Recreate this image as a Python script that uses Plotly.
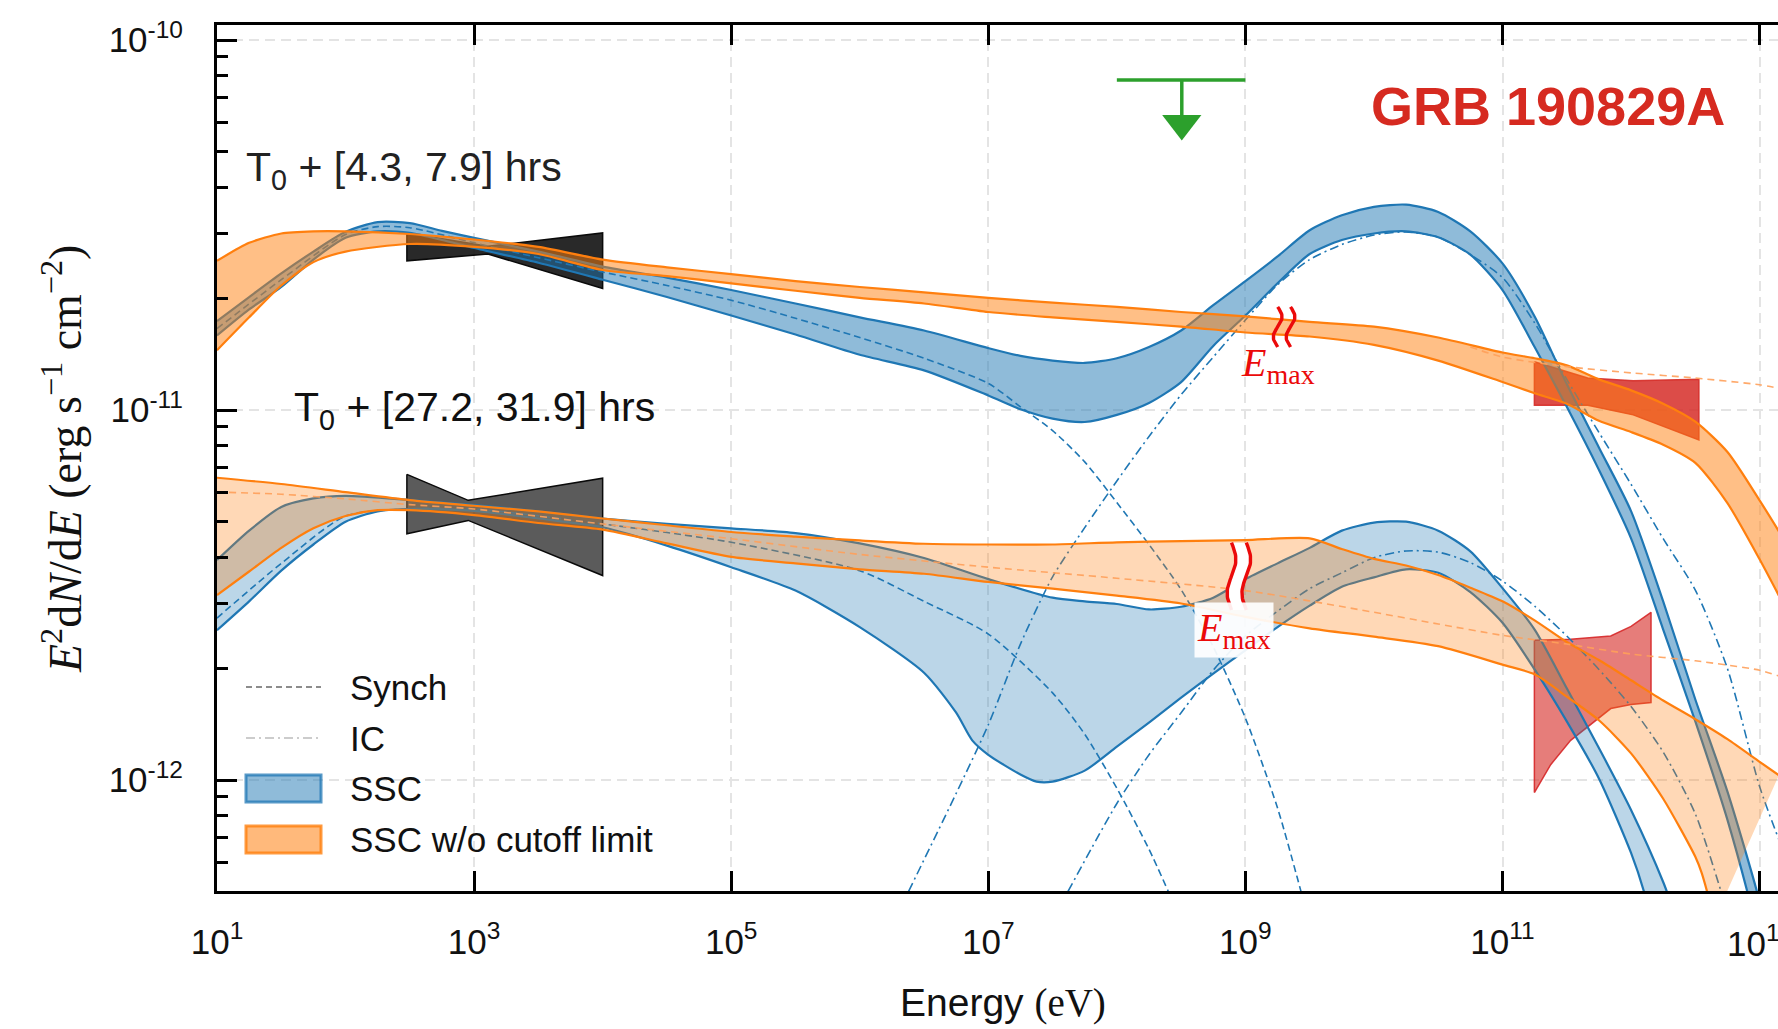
import math
import numpy as np
import plotly.graph_objects as go

# ------------------------------------------------------------------
# DATA  (energies given as log10(E/eV), fluxes in units of 1e-12 erg s^-1 cm^-2)
# ------------------------------------------------------------------
FLUX_UNIT = 1e-12

# ---- Epoch 1 : T0 + [4.3, 7.9] hrs -------------------------------
E1_SSC_LOGE = [1.0, 1.25, 1.5, 1.75, 2.0, 2.25, 2.5, 2.75, 3.0, 3.5, 4.0, 4.5, 5.0, 5.5, 6.0, 6.5,
               7.0, 7.25, 7.5, 7.75, 8.0, 8.25, 8.5, 8.75, 9.0, 9.25, 9.5, 9.75, 10.0, 10.25, 10.5,
               10.75, 11.0, 11.25, 11.5, 11.75, 12.0, 12.25, 12.5, 12.75, 13.0, 13.15]
E1_SSC_UP = [17.4, 20.2, 23.4, 26.8, 30.3, 32.2, 32.0, 30.5, 29.2, 26.8, 24.4, 22.8, 21.1, 19.4, 17.8, 16.4,
             14.7, 14.0, 13.6, 13.4, 13.8, 14.8, 16.4, 19.2, 22.3, 26.0, 30.6, 33.6, 35.4, 35.9, 34.3,
             30.4, 24.9, 17.9, 11.75, 7.92, 5.33, 3.04, 1.65, 0.93, 0.47, 0.28]
E1_SSC_LO = [15.9, 18.7, 21.5, 25.5, 29.2, 30.4, 30.1, 28.8, 27.4, 25.0, 22.5, 20.2, 18.0, 16.0, 14.1, 12.8,
             10.95, 10.05, 9.48, 9.28, 9.70, 10.45, 11.9, 14.9, 18.0, 22.0, 26.4, 28.8, 30.0, 30.4, 29.3,
             26.3, 21.1, 14.8, 10.2, 6.89, 4.50, 2.55, 1.44, 0.78, 0.37, 0.22]

E1_SYN_LOGE = [1.0, 1.5, 2.0, 2.25, 2.5, 3.0, 3.5, 4.0, 4.5, 5.0, 5.5, 6.0, 6.5, 7.0, 7.25, 7.5, 7.75,
               8.0, 8.25, 8.5, 8.75, 9.0, 9.25, 9.4, 9.55]
E1_SYN = [16.6, 22.5, 29.8, 31.3, 31.1, 28.3, 25.8, 23.6, 21.7, 19.8, 17.7, 15.7, 13.8, 11.8, 10.2, 8.80,
          7.24, 5.62, 4.33, 3.27, 2.29, 1.47, 0.84, 0.55, 0.35]

E1_IC_LOGE = [6.38, 6.75, 7.0, 7.25, 7.5, 7.75, 8.0, 8.25, 8.5, 8.75, 9.0, 9.25, 9.5, 9.75, 10.0, 10.25,
              10.5, 10.75, 11.0, 11.25, 11.5, 11.75, 12.0, 12.25, 12.5, 12.75, 13.0, 13.15]
E1_IC = [0.50, 0.92, 1.41, 2.33, 3.54, 4.81, 6.43, 8.48, 11.0, 13.9, 17.5, 21.8, 25.5, 28.0, 29.7, 30.3,
         29.3, 26.3, 22.8, 17.2, 12.1, 8.7, 6.3, 4.49, 3.26, 2.0, 0.96, 0.69]

E1_NOCUT_LOGE = [1.0, 1.25, 1.5, 1.75, 2.0, 2.5, 3.0, 3.5, 4.0, 4.5, 5.0, 5.5, 6.0, 6.5, 7.0, 7.5, 8.0,
                 8.5, 9.0, 9.5, 10.0, 10.5, 11.0, 11.25, 11.5, 11.75, 12.0, 12.25, 12.5, 12.75, 13.0, 13.15]
E1_NOCUT_UP = [25.3, 28.3, 30.0, 30.4, 30.4, 29.9, 28.9, 27.6, 25.5, 24.3, 23.3, 22.3, 21.5, 20.8, 20.1,
               19.5, 19.0, 18.4, 17.9, 17.3, 16.8, 15.7, 14.3, 13.8, 13.2, 12.1, 11.3, 10.4, 9.3, 7.7,
               5.7, 4.7]
E1_NOCUT_LO = [14.5, 17.8, 21.7, 25.1, 26.8, 28.1, 27.6, 26.4, 23.9, 23.0, 22.0, 21.0, 20.1, 19.4, 18.4,
               17.8, 17.3, 16.8, 16.2, 15.8, 15.0, 13.6, 11.9, 11.1, 10.4, 9.35, 8.72, 8.06, 7.2, 5.6,
               3.95, 3.15]
E1_NOCUT_SYN_LOGE = [10.75, 11.0, 11.5, 12.0, 12.5, 13.0, 13.15]
E1_NOCUT_SYN = [14.8, 13.9, 13.1, 12.6, 12.2, 11.7, 11.45]

# ---- Epoch 2 : T0 + [27.2, 31.9] hrs -----------------------------
E2_SSC_UP_LOGE = [1.0, 1.25, 1.5, 1.75, 2.0, 2.5, 3.0, 3.5, 4.0, 4.5, 5.0, 5.5, 6.0, 6.5, 7.0, 7.5, 7.75,
                  8.0, 8.25, 8.5, 8.75, 9.0, 9.25, 9.5, 9.75, 10.0, 10.25, 10.5, 10.75, 11.0, 11.25, 11.5,
                  11.75, 12.0, 12.25, 12.4]
E2_SSC_UP = [3.93, 4.72, 5.47, 5.77, 5.86, 5.71, 5.53, 5.32, 5.09, 4.92, 4.79, 4.65, 4.36, 3.98, 3.49, 3.11,
             3.04, 2.99, 2.89, 2.94, 3.11, 3.49, 3.85, 4.24, 4.72, 4.96, 4.99, 4.72, 4.15, 3.30, 2.55, 1.77,
             1.22, 0.83, 0.53, 0.38]
E2_SSC_LO_LOGE = [1.0, 1.25, 1.5, 1.75, 2.0, 2.25, 2.5, 3.0, 3.5, 4.0, 4.5, 5.0, 5.5, 6.0, 6.5, 6.75, 6.875,
                  7.0, 7.25, 7.375, 7.5, 7.75, 8.0, 8.25, 8.5, 8.75, 9.0, 9.25, 9.5, 9.75, 10.0, 10.25,
                  10.5, 10.75, 11.0, 11.25, 11.5, 11.75, 12.0, 12.1, 12.2]
E2_SSC_LO = [2.54, 3.04, 3.68, 4.33, 4.99, 5.32, 5.40, 5.34, 5.09, 4.82, 4.30, 3.76, 3.25, 2.59, 1.95, 1.52,
             1.28, 1.17, 1.035, 0.99, 0.99, 1.06, 1.23, 1.43, 1.67, 1.94, 2.24, 2.59, 2.96, 3.33, 3.53,
             3.71, 3.63, 3.22, 2.66, 1.99, 1.44, 1.01, 0.635, 0.50, 0.36]

E2_SYN_LOGE = [1.0, 1.5, 2.0, 2.5, 3.0, 4.0, 5.0, 6.0, 6.5, 7.0, 7.5, 7.75, 8.0, 8.25, 8.4]
E2_SYN = [2.74, 3.85, 5.17, 5.40, 5.40, 4.92, 4.39, 3.68, 3.04, 2.48, 1.72, 1.33, 0.95, 0.65, 0.50]

E2_IC_LOGE = [7.62, 8.0, 8.25, 8.5, 8.75, 9.0, 9.25, 9.5, 9.75, 10.0, 10.25, 10.5, 10.75, 11.0, 11.25,
              11.5, 11.75, 12.0, 12.25, 12.5, 12.7]
E2_IC = [0.50, 0.864, 1.17, 1.52, 1.98, 2.45, 2.86, 3.29, 3.63, 3.99, 4.16, 4.13, 3.87, 3.45, 2.95, 2.45,
         1.99, 1.58, 1.19, 0.81, 0.50]

E2_NOCUT_UP_LOGE = [1.0, 1.5, 2.0, 2.5, 3.0, 3.5, 4.0, 4.5, 5.0, 5.5, 6.0, 6.5, 7.0, 7.5, 8.0, 8.5, 9.0,
                    9.5, 9.75, 10.0, 10.25, 10.5, 10.75, 11.0, 11.25, 11.5, 11.75, 12.0, 12.25, 12.5,
                    12.75, 13.0, 13.15]
E2_NOCUT_UP = [6.56, 6.31, 6.0, 5.71, 5.51, 5.32, 5.09, 4.88, 4.68, 4.55, 4.44, 4.35, 4.33, 4.33, 4.39,
               4.42, 4.45, 4.50, 4.21, 3.96, 3.80, 3.58, 3.31, 3.04, 2.70, 2.36, 2.11, 1.86, 1.64, 1.46,
               1.29, 1.12, 1.03]
E2_NOCUT_LO_LOGE = [1.0, 1.25, 1.5, 1.75, 2.0, 2.25, 2.5, 3.0, 3.5, 4.0, 4.5, 5.0, 5.5, 6.0, 6.5, 7.0,
                    7.5, 8.0, 8.5, 9.0, 9.5, 10.0, 10.5, 11.0, 11.25, 11.5, 11.75, 12.0, 12.25, 12.5,
                    12.55, 12.65]
E2_NOCUT_LO = [3.16, 3.66, 4.24, 4.79, 5.17, 5.36, 5.36, 5.20, 4.95, 4.75, 4.36, 4.01, 3.85, 3.71, 3.61,
               3.43, 3.29, 3.15, 3.00, 2.76, 2.57, 2.44, 2.30, 2.05, 1.93, 1.68, 1.45, 1.18, 0.89, 0.62,
               0.56, 0.42]
E2_NOCUT_SYN_LOGE = [1.0, 1.5, 2.0, 2.5, 3.0, 4.0, 5.0, 6.0, 7.0, 8.0, 9.0, 10.0, 10.5, 11.0, 11.5, 12.0,
                     12.5, 13.0, 13.15]
E2_NOCUT_SYN = [6.0, 5.92, 5.75, 5.55, 5.40, 4.92, 4.49, 4.07, 3.76, 3.51, 3.25, 2.84, 2.64, 2.46, 2.33,
                2.19, 2.10, 1.98, 1.91]

# ---- X-ray (Swift-XRT) butterflies: energy in eV ------------------
XRT1_E = [300, 1280, 10000]
XRT1_UP = [30.1, 27.7, 30.1]
XRT1_LO = [25.3, 26.4, 21.3]
XRT2_E = [300, 900, 10000]
XRT2_UP = [6.70, 5.70, 6.54]
XRT2_LO = [4.63, 5.03, 3.57]

# ---- VHE (H.E.S.S.) butterflies: energy in eV ---------------------
HESS1_E = [1.77e11, 4.6e11, 1.04e12, 3.37e12]
HESS1_UP = [13.5, 12.2, 12.0, 12.1]
HESS1_LO = [10.3, 10.3, 9.7, 8.3]
HESS2_E = [1.77e11, 2.37e11, 3.39e11, 6.95e11, 1.0e12, 1.43e12]
HESS2_UP = [2.385, 2.39, 2.40, 2.45, 2.60, 2.84]
HESS2_LO = [0.925, 1.10, 1.28, 1.56, 1.60, 1.62]

# ---- Fermi-LAT upper limit ---------------------------------------
UL_E = [1e8, 1e9]
UL_E_MID = 3.2e8
UL_F = 78.0
UL_ARROW_F = 59.5

# ---- E_max markers -----------------------------------------------
EMAX_E = [2.0e9, 8.9e8]
EMAX_F_LO = [14.8, 2.88]
EMAX_F_HI = [19.0, 4.38]
EMAX_LABEL_E = [1.80e9, 8.1e8]
EMAX_LABEL_F = [13.2, 2.55]

# axis ticks
X_TICK_EXP = [1, 3, 5, 7, 9, 11, 13]
Y_TICK_EXP = [-12, -11, -10]

# ------------------------------------------------------------------
BLUE = '#1f77b4'
ORANGE = '#ff7f0e'
GREEN = '#2ca02c'
RED_EMAX = 'rgb(235,10,10)'


def E(loge):
    return [10 ** v for v in loge]


def F(vals):
    return [v * FLUX_UNIT for v in vals]


def rgba(hexc, a):
    h = hexc.lstrip('#')
    return 'rgba(%d,%d,%d,%.3f)' % (int(h[0:2], 16), int(h[2:4], 16), int(h[4:6], 16), a)


fig = go.Figure()


def add_poly(x_edge, up, lo, fillcolor, linecolor, lw=1.5):
    xs = list(x_edge) + list(x_edge)[::-1] + [x_edge[0]]
    ys = F(up) + F(lo)[::-1] + [up[0] * FLUX_UNIT]
    fig.add_trace(go.Scatter(x=xs, y=ys, mode='lines', fill='toself', fillcolor=fillcolor,
                             line=dict(color=linecolor, width=lw), hoverinfo='skip', showlegend=False))


def add_band(le_lo, lo, le_up, up, color, alpha, lw=2.2, smooth=0.7):
    fig.add_trace(go.Scatter(x=E(le_lo), y=F(lo), mode='lines',
                             line=dict(color=color, width=lw, shape='spline', smoothing=smooth),
                             hoverinfo='skip', showlegend=False))
    fig.add_trace(go.Scatter(x=E(le_up), y=F(up), mode='lines', fill='tonexty',
                             fillcolor=rgba(color, alpha),
                             line=dict(color=color, width=lw, shape='spline', smoothing=smooth),
                             hoverinfo='skip', showlegend=False))


def add_line(le, vals, color, dash, lw=1.6):
    fig.add_trace(go.Scatter(x=E(le), y=F(vals), mode='lines',
                             line=dict(color=color, width=lw, dash=dash, shape='spline', smoothing=0.7),
                             hoverinfo='skip', showlegend=False))


# butterflies (below the model bands)
add_poly(XRT1_E, XRT1_UP, XRT1_LO, 'rgba(25,25,25,0.93)', 'rgba(10,10,10,1)')
add_poly(XRT2_E, XRT2_UP, XRT2_LO, 'rgba(45,45,45,0.78)', 'rgba(10,10,10,1)')
add_poly(HESS1_E, HESS1_UP, HESS1_LO, 'rgba(214,45,40,0.85)', 'rgba(214,45,40,0.9)')
add_poly(HESS2_E, HESS2_UP, HESS2_LO, 'rgba(214,45,40,0.62)', 'rgba(214,39,40,0.9)')

# SSC bands (blue)
add_band(E1_SSC_LOGE, E1_SSC_LO, E1_SSC_LOGE, E1_SSC_UP, BLUE, 0.5)
add_band(E2_SSC_LO_LOGE, E2_SSC_LO, E2_SSC_UP_LOGE, E2_SSC_UP, BLUE, 0.3)
# components
add_line(E1_SYN_LOGE, E1_SYN, BLUE, '7px,4px')
add_line(E1_IC_LOGE, E1_IC, BLUE, '9px,4px,2px,4px')
add_line(E2_SYN_LOGE, E2_SYN, BLUE, '7px,4px')
add_line(E2_IC_LOGE, E2_IC, BLUE, '9px,4px,2px,4px')

# SSC without cutoff limit (orange)
add_band(E1_NOCUT_LOGE, E1_NOCUT_LO, E1_NOCUT_LOGE, E1_NOCUT_UP, ORANGE, 0.5)
add_band(E2_NOCUT_LO_LOGE, E2_NOCUT_LO, E2_NOCUT_UP_LOGE, E2_NOCUT_UP, ORANGE, 0.3)
add_line(E1_NOCUT_SYN_LOGE, E1_NOCUT_SYN, 'rgba(255,160,90,0.9)', '7px,5px', lw=1.6)
add_line(E2_NOCUT_SYN_LOGE, E2_NOCUT_SYN, 'rgba(255,160,90,0.9)', '7px,5px', lw=1.6)

# Fermi-LAT upper limit
fig.add_trace(go.Scatter(x=UL_E, y=[UL_F * FLUX_UNIT] * 2, mode='lines',
                         line=dict(color=GREEN, width=3.5), hoverinfo='skip', showlegend=False))
fig.add_trace(go.Scatter(x=[UL_E_MID, UL_E_MID], y=[UL_F * FLUX_UNIT, UL_ARROW_F * FLUX_UNIT],
                         mode='lines', line=dict(color=GREEN, width=3.5), hoverinfo='skip',
                         showlegend=False))
fig.add_trace(go.Scatter(x=[UL_E_MID], y=[UL_ARROW_F * FLUX_UNIT], mode='markers',
                         marker=dict(symbol='triangle-down', size=34, color=GREEN, line=dict(width=0)),
                         hoverinfo='skip', showlegend=False, cliponaxis=False))

# E_max break markers (decorative wavy double lines)
for i in range(2):
    c = math.log10(EMAX_E[i])
    t = np.linspace(0, 1, 41)
    ly0, ly1 = math.log10(EMAX_F_LO[i] * FLUX_UNIT), math.log10(EMAX_F_HI[i] * FLUX_UNIT)
    ly = ly0 + t * (ly1 - ly0)
    gap = 0.10 if i == 0 else 0.115
    wav = -0.034 * np.sin(2 * np.pi * t)
    left = 10 ** (c - gap / 2 + wav)
    right = 10 ** (c + gap / 2 + wav)
    yy = 10 ** ly
    if i == 1:
        fig.add_trace(go.Scatter(x=list(left) + list(right[::-1]), y=list(yy) + list(yy[::-1]),
                                 mode='lines', fill='toself', fillcolor='white',
                                 line=dict(width=0, color='white'), hoverinfo='skip', showlegend=False))
    for xx in (left, right):
        fig.add_trace(go.Scatter(x=list(xx), y=list(yy), mode='lines',
                                 line=dict(color=RED_EMAX, width=3.4), hoverinfo='skip',
                                 showlegend=False))

# ------------------------------------------------------------------
# layout
# ------------------------------------------------------------------
W, H = 1778, 1029
PL, PR, PT, PB = 217, 1778, 25, 891


def px(x):
    return (x - PL) / (PR - PL)


def py(y):
    return (PB - y) / (PB - PT)


grid_col = '#e4e4e4'
minor_vals = [k * 10.0 ** n for n in (-13, -12, -11, -10) for k in range(2, 10)]
X_LABELLED = X_TICK_EXP[:-1]          # last label drawn as annotation (it runs off the page edge)

fig.update_layout(
    width=W, height=H,
    margin=dict(l=PL, r=W - PR, t=PT, b=H - PB, autoexpand=False),
    plot_bgcolor='white', paper_bgcolor='white',
    showlegend=False,
    font=dict(family='Liberation Sans', color='black'),
    xaxis=dict(
        type='log', range=[1, 1 + (PR - PL) / 128.55], automargin=False,
        showline=True, linecolor='black', linewidth=3, mirror='ticks',
        ticks='inside', ticklen=20, tickwidth=3, tickcolor='black',
        tickvals=[10.0 ** k for k in X_TICK_EXP],
        ticktext=['10<sup>%d</sup>' % k if k in X_LABELLED else '' for k in X_TICK_EXP],
        tickfont=dict(size=35, family='Liberation Sans', color='#111'),
        ticklabelstandoff=18,
        showgrid=True, gridcolor=grid_col, gridwidth=2, griddash='10px,6px',
        zeroline=False,
    ),
    yaxis=dict(
        type='log', range=[-12.3, -12.3 + (PB - PT) / 370.0], automargin=False,
        showline=True, linecolor='black', linewidth=3,
        ticks='inside', ticklen=20, tickwidth=3, tickcolor='black',
        tickvals=[10.0 ** k for k in Y_TICK_EXP],
        ticktext=['10<sup>%d</sup>' % k for k in Y_TICK_EXP],
        tickfont=dict(size=35, family='Liberation Sans', color='#111'),
        ticklabelstandoff=24,
        minor=dict(tickvals=minor_vals, ticks='inside', ticklen=11, tickwidth=3,
                   tickcolor='black', showgrid=False),
        showgrid=True, gridcolor=grid_col, gridwidth=2, griddash='10px,6px',
        zeroline=False,
    ),
)

ann = []
# last x tick label (clipped at the page edge like the reference)
ann.append(dict(x=X_TICK_EXP[-1], y=py(941), xref='x', yref='paper', showarrow=False,
                xanchor='center', yanchor='middle', text='10<sup>%d</sup>' % X_TICK_EXP[-1],
                font=dict(size=35, family='Liberation Sans', color='#111')))
# axis titles
ann.append(dict(x=px(1003), y=py(1003), xref='paper', yref='paper', showarrow=False,
                xanchor='center', yanchor='middle',
                text='Energy <span style="font-family:Liberation Serif">(eV)</span>',
                font=dict(size=39, family='Liberation Sans', color='#111')))
ann.append(dict(x=px(62), y=py(459), xref='paper', yref='paper', showarrow=False,
                xanchor='center', yanchor='middle', textangle=-90,
                text='<i>E</i><sup>2</sup>d<i>N</i>/d<i>E</i> (erg s<sup>\u22121</sup> cm<sup>\u22122</sup>)',
                font=dict(size=46, family='Liberation Serif', color='#111')))
# epoch labels
ann.append(dict(x=px(244), y=py(170), xref='paper', yref='paper', showarrow=False,
                xanchor='left', yanchor='middle',
                text='T<sub>0</sub> + [4.3, 7.9] hrs',
                font=dict(size=41, family='Liberation Sans', color='#222')))
ann.append(dict(x=px(292), y=py(410), xref='paper', yref='paper', showarrow=False,
                xanchor='left', yanchor='middle',
                text='T<sub>0</sub> + [27.2, 31.9] hrs',
                font=dict(size=41, family='Liberation Sans', color='#111')))
ann.append(dict(x=px(1548), y=py(106), xref='paper', yref='paper', showarrow=False,
                xanchor='center', yanchor='middle', text='<b>GRB 190829A</b>',
                font=dict(size=54, family='Liberation Sans', color='#d62a20')))
# E_max labels
for i in range(2):
    a = dict(x=math.log10(EMAX_LABEL_E[i]), y=math.log10(EMAX_LABEL_F[i] * FLUX_UNIT),
             xref='x', yref='y', showarrow=False, xanchor='center', yanchor='middle',
             text='<i>E</i><sub>max</sub>',
             font=dict(size=40, family='Liberation Serif', color=RED_EMAX))
    if i == 1:
        a.update(bgcolor='rgba(255,255,255,0.92)', borderpad=2)
    ann.append(a)

# legend
shapes = []
shapes.append(dict(type='rect', xref='paper', yref='paper', x0=px(232), x1=px(600), y0=py(662),
                   y1=py(866), fillcolor='rgba(255,255,255,0.8)', line=dict(width=0), layer='between'))
rows = [('Synch', 687), ('IC', 738), ('SSC', 788), ('SSC w/o cutoff limit', 839)]
shapes.append(dict(type='line', xref='paper', yref='paper', x0=px(246), x1=px(321), y0=py(687),
                   y1=py(687), line=dict(color='#8c8c8c', width=2, dash='6px,4px')))
shapes.append(dict(type='line', xref='paper', yref='paper', x0=px(246), x1=px(321), y0=py(738),
                   y1=py(738), line=dict(color='#cccccc', width=2, dash='9px,4px,2px,4px')))
shapes.append(dict(type='rect', xref='paper', yref='paper', x0=px(246), x1=px(321), y0=py(802),
                   y1=py(775), fillcolor=rgba(BLUE, 0.5), line=dict(color=rgba(BLUE, 0.75), width=3)))
shapes.append(dict(type='rect', xref='paper', yref='paper', x0=px(246), x1=px(321), y0=py(853),
                   y1=py(826), fillcolor=rgba(ORANGE, 0.55), line=dict(color=rgba(ORANGE, 0.8), width=3)))
for label, yy in rows:
    ann.append(dict(x=px(348), y=py(yy), xref='paper', yref='paper', showarrow=False,
                    xanchor='left', yanchor='middle', text=label,
                    font=dict(size=35, family='Liberation Sans', color='#111')))

fig.update_layout(annotations=ann, shapes=shapes)

fig.write_html('out.html')
